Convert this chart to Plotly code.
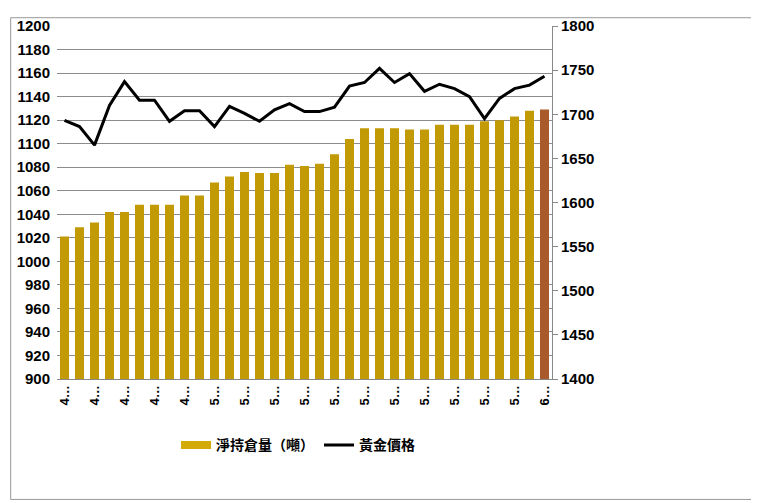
import plotly.graph_objects as go

# 淨持倉量（噸）, one bar per trading day
holdings = [1021, 1029, 1033, 1042, 1042, 1048, 1048, 1048, 1056, 1056,
            1067, 1072, 1076, 1075, 1075, 1082, 1081, 1083, 1091, 1104,
            1113, 1113, 1113, 1112, 1112, 1116, 1116, 1116, 1119, 1120,
            1123, 1128, 1129]
# 黃金價格
gold_price = [1693, 1686, 1665, 1710, 1737, 1716, 1716, 1692, 1704, 1704,
              1686, 1709, 1701, 1692, 1705, 1712, 1703, 1703, 1708, 1732,
              1736, 1752, 1736, 1746, 1726, 1734, 1729, 1720, 1695, 1718,
              1729, 1733, 1743]
# truncated month labels, shown on every other day
tick_labels = ["4…", "4…", "4…", "4…", "4…", "5…", "5…", "5…", "5…",
               "5…", "5…", "5…", "5…", "5…", "5…", "5…", "6…"]

days = list(range(len(holdings)))
GOLD = "#C29A06"
bar_colors = [GOLD] * (len(holdings) - 1) + ["#A85A2A"]

# page body adds 8px at top/left, so the figure is 8px smaller
W, H = 751, 495
L, R, T, B = 47, 207, 9, 124
pw, ph = W - L - R, H - T - B

fig = go.Figure()
fig.add_trace(go.Bar(
    x=days, y=holdings, name="淨持倉量（噸）", showlegend=False,
    marker=dict(color=bar_colors, line=dict(width=0)),
    width=0.6,
))
# legend swatch for the bars (wide block like the original)
fig.add_trace(go.Scatter(
    x=[None], y=[None], name="淨持倉量（噸）", mode="lines",
    line=dict(color="#D4AA08", width=8),
))
fig.add_trace(go.Scatter(
    x=days, y=gold_price, name="黃金價格", yaxis="y2",
    mode="lines", line=dict(color="black", width=3),
))

axis_font = dict(family="Liberation Sans, Arial", size=15, color="black", weight="bold")
fig.update_layout(
    width=W, height=H,
    margin=dict(l=L, r=R, t=T, b=B),
    paper_bgcolor="white", plot_bgcolor="white",
    font=dict(family="Liberation Sans, Arial"),
    showlegend=True,
    legend=dict(orientation="h", x=(297 - 55) / pw, xanchor="center",
                y=(379 - 447) / ph, yanchor="middle",
                font=dict(family="Noto Sans CJK TC", size=14, color="black", weight="bold"),
                traceorder="normal"),
    xaxis=dict(
        range=[-0.5, len(days) - 0.5],
        tickvals=days[::2], ticktext=tick_labels,
        tickangle=-90,
        tickfont=dict(family="Liberation Sans, Arial", size=13, color="black", weight="bold"),
        showgrid=False, showline=True, linecolor="#888", linewidth=1,
        ticks="", zeroline=False,
    ),
    yaxis=dict(
        range=[900, 1200], dtick=20, tickfont=axis_font,
        showgrid=True, gridcolor="#8c8c8c", gridwidth=1,
        showline=False, ticks="", zeroline=False,
        tickformat="d", ticklabelstandoff=6,
    ),
    yaxis2=dict(
        range=[1400, 1800], dtick=50, overlaying="y", side="right",
        tickfont=axis_font, showgrid=False,
        showline=True, linecolor="#888", linewidth=1,
        ticks="outside", ticklen=5, tickcolor="#888",
        zeroline=False, tickformat="d",
    ),
    shapes=[dict(
        type="rect", xref="paper", yref="paper",
        x0=(0.5 - L) / pw, x1=(W - 0.5 - L) / pw,
        y0=(T + ph - (H - 0.5)) / ph, y1=(T + ph - 0.5) / ph,
        line=dict(color="#999", width=1), fillcolor="rgba(0,0,0,0)",
    )],
)

fig.write_html("out.html")
